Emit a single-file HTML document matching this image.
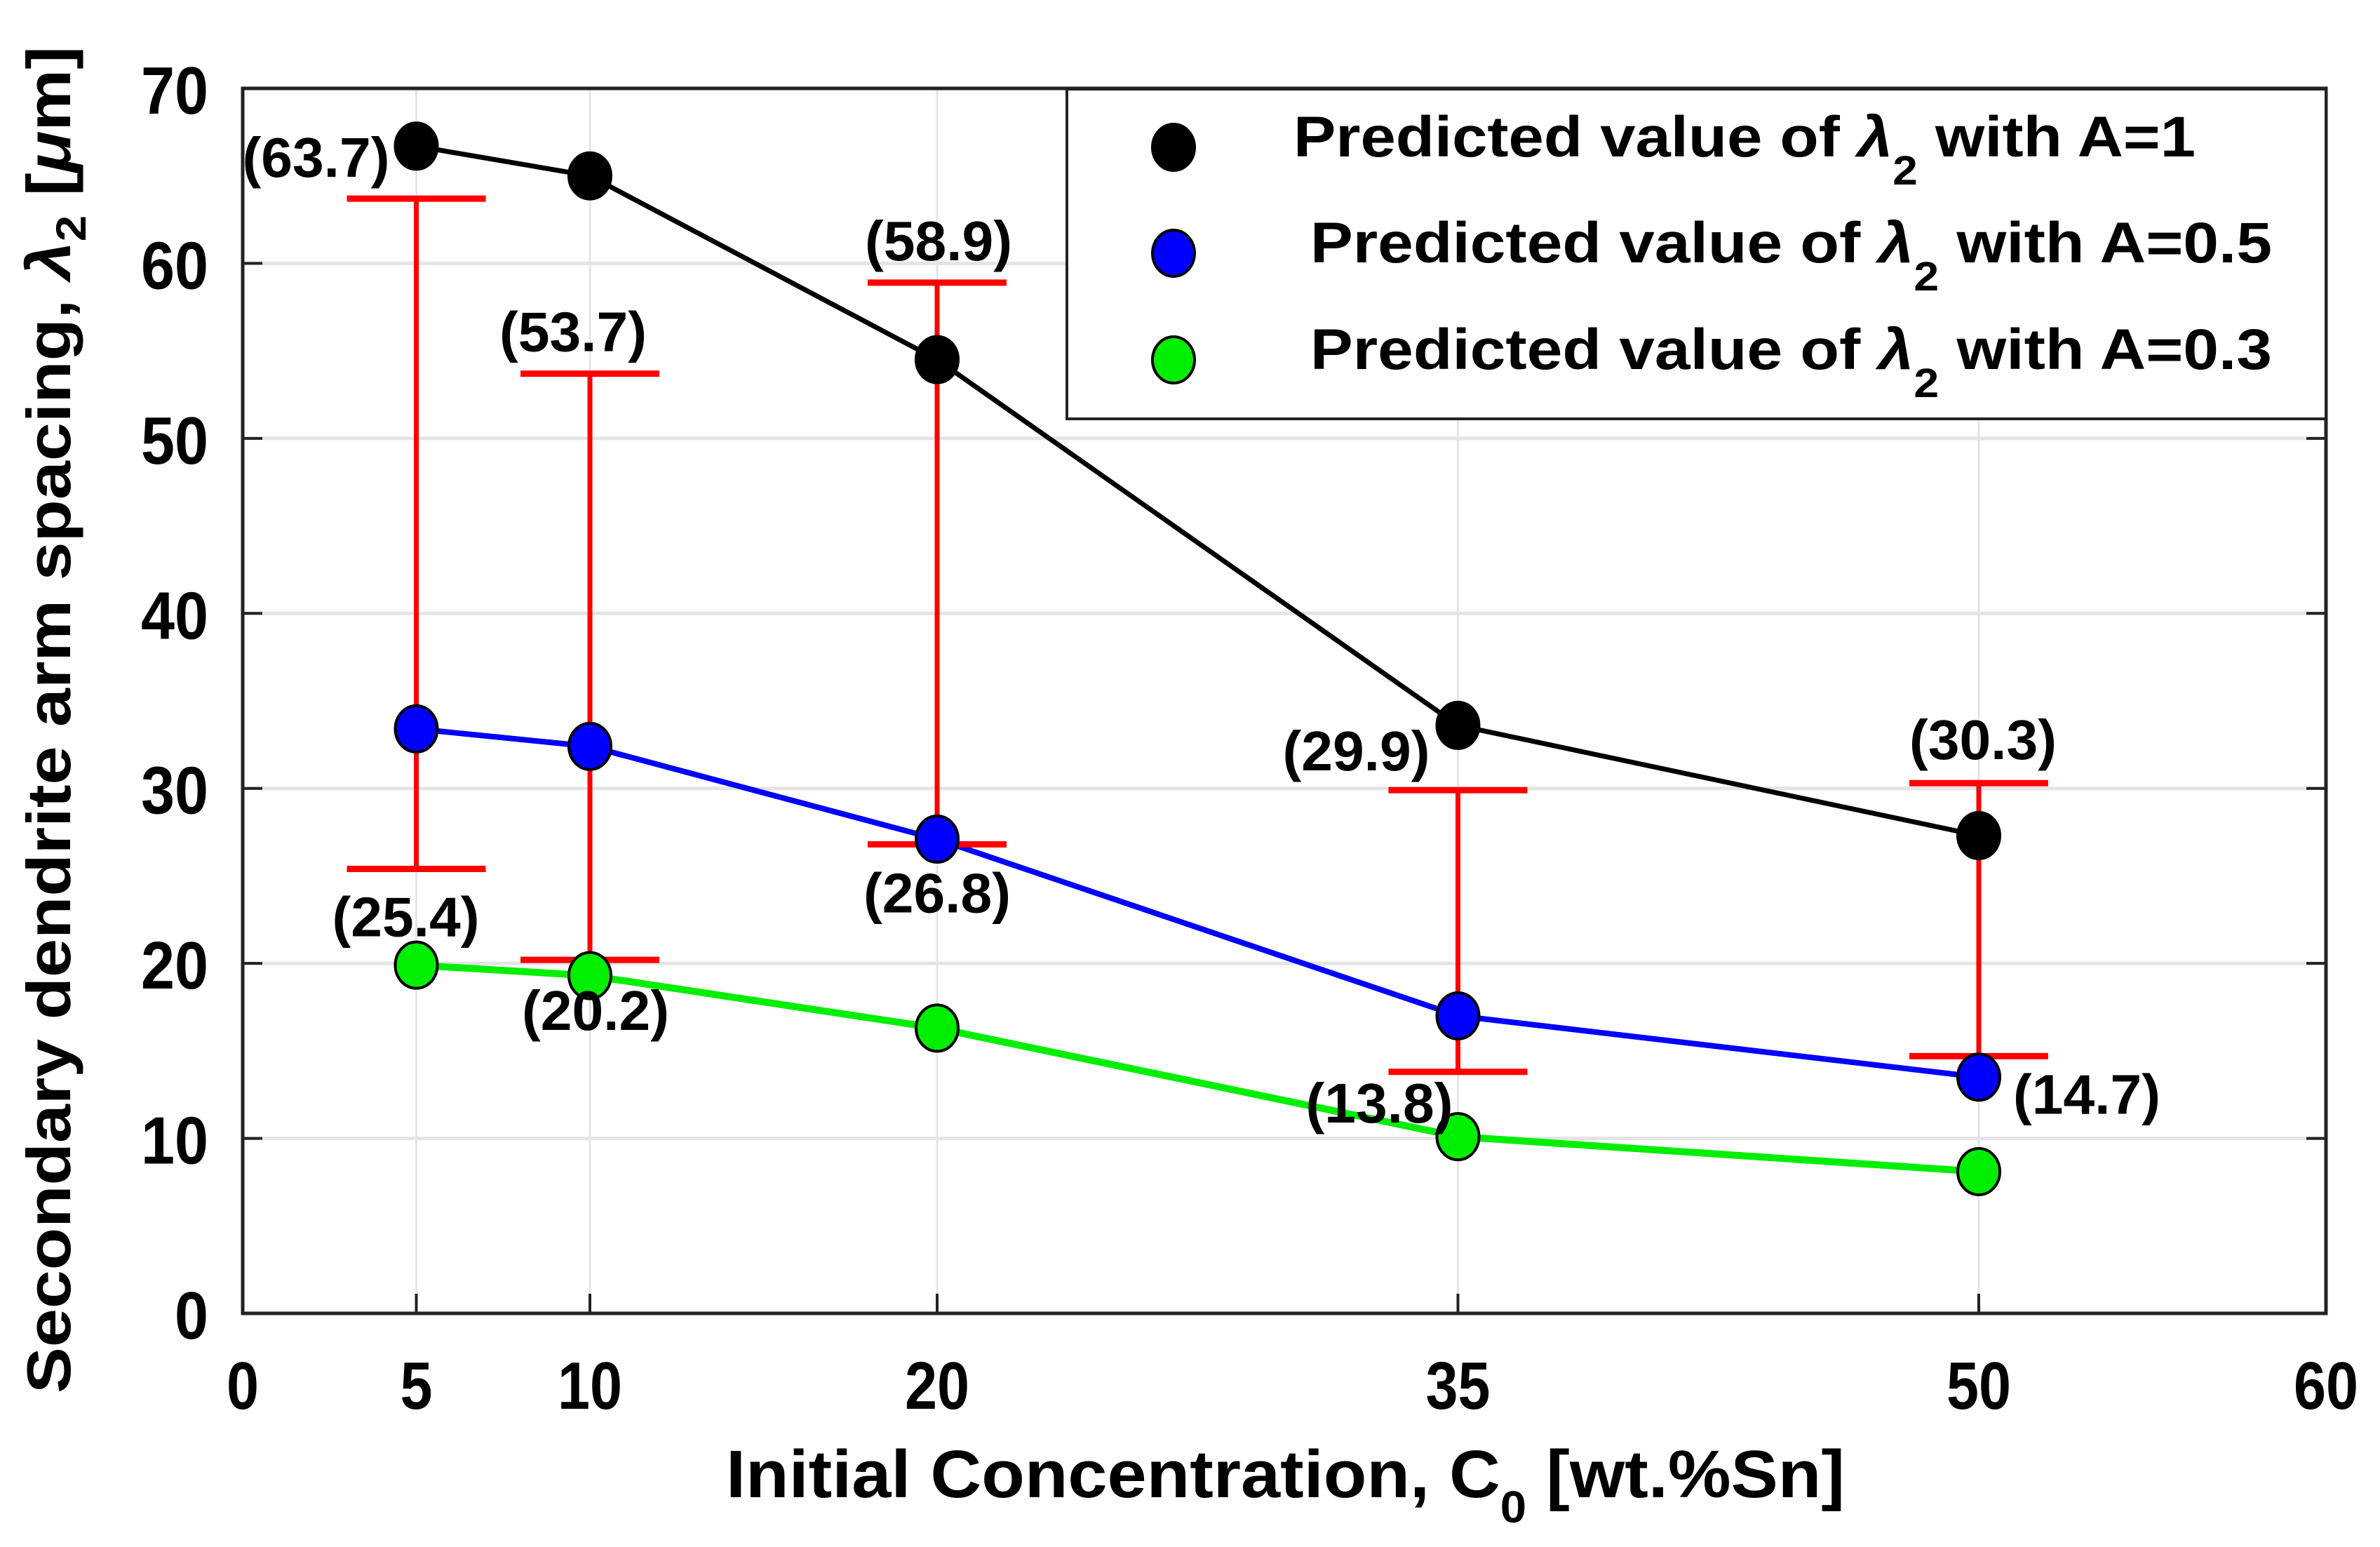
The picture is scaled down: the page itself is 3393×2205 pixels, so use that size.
<!DOCTYPE html>
<html><head><meta charset="utf-8"><style>
html,body{margin:0;padding:0;background:#fff;}
svg{display:block;font-family:"Liberation Sans",Arial,sans-serif;}
</style></head><body>
<svg id="chart" width="3393" height="2205" viewBox="0 0 3393 2205" xmlns="http://www.w3.org/2000/svg">
<rect x="0" y="0" width="3393" height="2205" fill="#fff"/>
<g id="grid"></g>
<g id="series"></g>
<g id="axes"></g>
<g id="labels"></g>
<text transform="translate(100,1986) rotate(-90)" font-size="88" font-weight="bold" textLength="1920" lengthAdjust="spacingAndGlyphs">Secondary dendrite arm spacing, <tspan font-style="italic">λ</tspan><tspan font-size="60" dy="22">2</tspan><tspan dy="-22"> [</tspan><tspan font-style="italic">μ</tspan>m]</text>
<text x="1035" y="2134" font-size="96" font-weight="bold" textLength="1595" lengthAdjust="spacingAndGlyphs">Initial Concentration, C<tspan font-size="64" dy="36">0</tspan><tspan dy="-36"> [wt.%Sn]</tspan></text>
<g id="legend">
<rect x="1521" y="127" width="1795" height="470" fill="#fff" stroke="#222" stroke-width="4"/>
</g>
</svg>
<script>
const xCats = [5, 10, 20, 35, 50];
const seriesA1 = [66.7, 65.0, 54.5, 33.6, 27.3];
const seriesA05 = [33.4, 32.4, 27.1, 17.0, 13.5];
const seriesA03 = [19.9, 19.3, 16.3, 10.1, 8.1];
const errLow = [25.4, 20.2, 26.8, 13.8, 14.7];
const errHigh = [63.7, 53.7, 58.9, 29.9, 30.3];
const xTicks = [0, 5, 10, 20, 35, 50, 60];
const yTicks = [0, 10, 20, 30, 40, 50, 60, 70];
const labelTexts = ["(63.7)","(53.7)","(58.9)","(29.9)","(30.3)","(25.4)","(20.2)","(26.8)","(13.8)","(14.7)"];
const legendTexts = ["Predicted value of λ2 with A=1","Predicted value of λ2 with A=0.5","Predicted value of λ2 with A=0.3"];

const NS="http://www.w3.org/2000/svg";
const X0=346, X1=3316, Y0=1872, Y1=126;
function sx(v){return X0+(v-0)/(60-0)*(X1-X0);}
function sy(v){return Y0-(v-0)/(70-0)*(Y0-Y1);}
function mk(tag,attrs,parent){const e=document.createElementNS(NS,tag);for(const k in attrs)e.setAttribute(k,attrs[k]);parent.appendChild(e);return e;}
const grid=document.getElementById('grid'),axes=document.getElementById('axes'),ser=document.getElementById('series'),lab=document.getElementById('labels'),leg=document.getElementById('legend');

xTicks.forEach(t=>{
  const l=mk('line',{x1:sx(t),x2:sx(t),y1:Y1,y2:Y0,stroke:'#e4e4e4','stroke-width':3},grid);
  
  
  const tk=mk('line',{x1:sx(t),x2:sx(t),y1:Y0,y2:Y0-28,stroke:'#222','stroke-width':4},axes);
  
  
  const tx=mk('text',{x:sx(t),y:2008,'font-size':96,'font-weight':'bold','text-anchor':'middle',textLength:String(t).length*46,lengthAdjust:'spacingAndGlyphs'},axes);
  tx.textContent=t;
  
  
});
yTicks.forEach(t=>{
  const l=mk('line',{x1:X0,x2:X1,y1:sy(t),y2:sy(t),stroke:'#e4e4e4','stroke-width':5},grid);
  
  
  const tk=mk('line',{x1:X0,x2:X0+28,y1:sy(t),y2:sy(t),stroke:'#222','stroke-width':4},axes);
  
  
  const tk2=mk('line',{x1:X1,x2:X1-28,y1:sy(t),y2:sy(t),stroke:'#222','stroke-width':4},axes);
  
  
  const tx=mk('text',{x:297,y:sy(t)+36,'font-size':96,'font-weight':'bold','text-anchor':'end',textLength:String(t).length*48,lengthAdjust:'spacingAndGlyphs'},axes);
  tx.textContent=t;
  
  
});
const frame=mk('rect',{x:X0,y:Y1,width:X1-X0,height:Y0-Y1,fill:'none',stroke:'#222','stroke-width':5},axes);



function drawSeries(vals,color,w,name){
  const pts=xCats.map((c,i)=>sx(c)+','+sy(vals[i])).join(' ');
  const pl=mk('polyline',{points:pts,fill:'none',stroke:color,'stroke-width':w},ser);
  
  
}
function drawMarkers(vals,color,name){
  xCats.forEach((c,i)=>{
    const m=mk('ellipse',{cx:sx(c),cy:sy(vals[i]),rx:30,ry:33,fill:color,stroke:'#000','stroke-width':4},ser);
    
    
  });
}
drawSeries(seriesA1,'#000',7,'a1');
drawSeries(seriesA05,'#0000ff',8,'a05');
drawSeries(seriesA03,'#00ee00',10,'a03');
xCats.forEach((c,i)=>{
  const v=mk('line',{x1:sx(c),x2:sx(c),y1:sy(errLow[i]),y2:sy(errHigh[i]),stroke:'#ff0000','stroke-width':7},ser);
  
  
  [errLow[i],errHigh[i]].forEach(e=>{
    const cp=mk('line',{x1:sx(c)-99,x2:sx(c)+99,y1:sy(e),y2:sy(e),stroke:'#ff0000','stroke-width':9},ser);
    
    
  });
});
drawMarkers(seriesA1,'#000','a1');
drawMarkers(seriesA05,'#0000ff','a05');
drawMarkers(seriesA03,'#00ee00','a03');

const labelX=[xCats[0],xCats[1],xCats[2],xCats[3],xCats[4],xCats[0],xCats[1],xCats[2],xCats[3],xCats[4]];
const labelV=[errHigh[0],errHigh[1],errHigh[2],errHigh[3],errHigh[4],errLow[0],errLow[1],errLow[2],errLow[3],errLow[4]];
const labelDx=[-143,-24,2,-145,6,-15,8,0,-112,154];
const labelDy=[-31,-32,-32,-28,-34,96,100,97,72,82];
labelTexts.forEach((t,i)=>{
  const tx=mk('text',{x:sx(labelX[i])+labelDx[i],y:sy(labelV[i])+labelDy[i],'font-size':80,'font-weight':'bold','text-anchor':'middle',textLength:210,lengthAdjust:'spacingAndGlyphs'},lab);
  tx.textContent=t;
  
  
});

const legColors=['#000','#0000ff','#00ee00'];
const legY=[210,361,513], legTX=[1844,1868,1868], legW=[1286,1371,1371];
legendTexts.forEach((t,i)=>{
  const m=mk('ellipse',{cx:1673,cy:legY[i],rx:30,ry:33,fill:legColors[i],stroke:'#000','stroke-width':4},leg);
  
  
  const tx=mk('text',{x:legTX[i],y:legY[i]+13,'font-size':82,'font-weight':'bold',textLength:legW[i],lengthAdjust:'spacingAndGlyphs'},leg);
  
  
  const parts=t.split('λ2');
  const a=document.createElementNS(NS,'tspan');a.textContent=parts[0];tx.appendChild(a);
  const l=document.createElementNS(NS,'tspan');l.textContent='λ';l.setAttribute('font-style','italic');tx.appendChild(l);
  const s=document.createElementNS(NS,'tspan');s.textContent='2';s.setAttribute('font-size','58');s.setAttribute('dy','40');tx.appendChild(s);
  const b=document.createElementNS(NS,'tspan');b.textContent=parts[1];b.setAttribute('dy','-40');tx.appendChild(b);
});
</script>
</body></html>
